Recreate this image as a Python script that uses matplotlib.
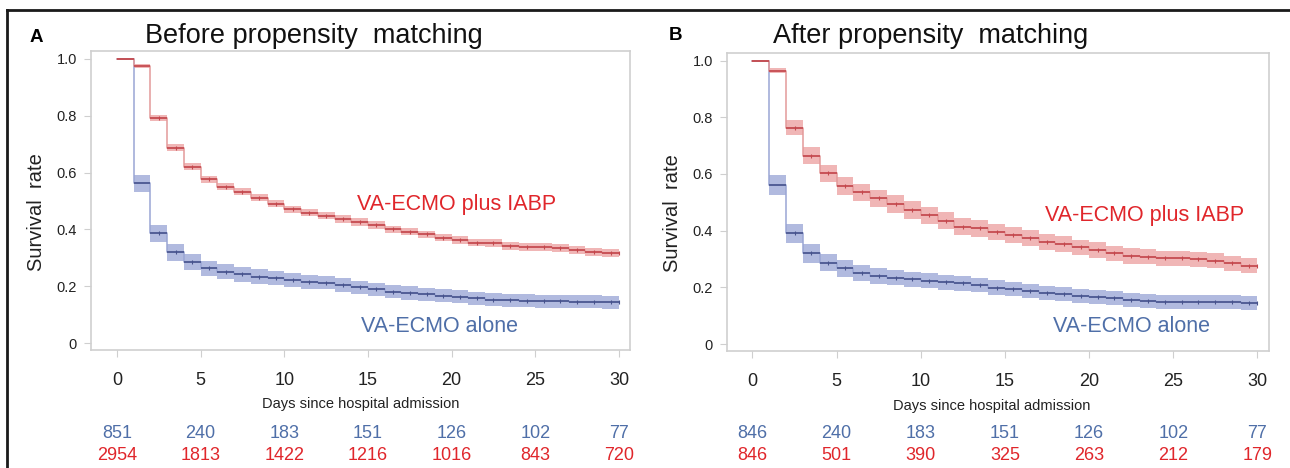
import numpy as np
import matplotlib
matplotlib.use('Agg')
import matplotlib.pyplot as plt
from matplotlib import transforms
from matplotlib.lines import Line2D

plt.rcParams['font.family'] = ['Liberation Sans', 'DejaVu Sans']

# ---------------- data ----------------
days = list(range(31))
xticks = [0, 5, 10, 15, 20, 25, 30]
yticks = [0, 0.2, 0.4, 0.6, 0.8, 1.0]
ytick_labels = ['0', '0.2', '0.4', '0.6', '0.8', '1.0']

# Panel A: before propensity matching
surv_A_iabp = [1.0, 0.976, 0.793, 0.688, 0.621, 0.577, 0.550, 0.532, 0.512, 0.491,
               0.471, 0.459, 0.448, 0.436, 0.426, 0.415, 0.400, 0.392, 0.383, 0.371,
               0.363, 0.353, 0.351, 0.342, 0.339, 0.337, 0.333, 0.327, 0.321, 0.318, 0.316]
ci_A_iabp = [0.0, 0.007, 0.011, 0.012, 0.012, 0.012, 0.012, 0.012, 0.012, 0.012,
             0.012, 0.012, 0.013, 0.013, 0.013, 0.013, 0.013, 0.013, 0.013, 0.013,
             0.013, 0.013, 0.014, 0.014, 0.014, 0.014, 0.014, 0.014, 0.014, 0.014, 0.014]
surv_A_alone = [1.0, 0.562, 0.386, 0.319, 0.286, 0.263, 0.251, 0.242, 0.234, 0.228,
                0.222, 0.216, 0.213, 0.204, 0.196, 0.189, 0.181, 0.177, 0.171, 0.167,
                0.163, 0.157, 0.153, 0.151, 0.149, 0.147, 0.147, 0.146, 0.146, 0.143, 0.143]
ci_A_alone = [0.0, 0.031, 0.031, 0.029, 0.028, 0.027, 0.026, 0.026, 0.025, 0.025,
              0.025, 0.025, 0.024, 0.024, 0.024, 0.024, 0.024, 0.024, 0.024, 0.023,
              0.023, 0.023, 0.023, 0.023, 0.023, 0.023, 0.023, 0.023, 0.023, 0.023, 0.023]

# Panel B: after propensity matching
surv_B_iabp = [1.0, 0.965, 0.764, 0.665, 0.602, 0.558, 0.535, 0.514, 0.494, 0.473,
               0.455, 0.435, 0.414, 0.408, 0.396, 0.385, 0.373, 0.361, 0.353, 0.341,
               0.332, 0.320, 0.311, 0.308, 0.302, 0.302, 0.299, 0.294, 0.285, 0.276, 0.276]
ci_B_iabp = [0.0, 0.009, 0.027, 0.030, 0.031, 0.031, 0.031, 0.031, 0.031, 0.031,
             0.030, 0.030, 0.030, 0.029, 0.029, 0.029, 0.028, 0.028, 0.028, 0.027,
             0.027, 0.027, 0.027, 0.026, 0.026, 0.026, 0.026, 0.026, 0.026, 0.026, 0.026]
surv_B_alone = [1.0, 0.561, 0.391, 0.320, 0.287, 0.267, 0.250, 0.241, 0.234, 0.228,
                0.223, 0.218, 0.214, 0.208, 0.199, 0.193, 0.188, 0.181, 0.175, 0.169,
                0.165, 0.161, 0.155, 0.153, 0.149, 0.147, 0.147, 0.147, 0.147, 0.144, 0.144]
ci_B_alone = [0.0, 0.034, 0.033, 0.033, 0.031, 0.029, 0.028, 0.028, 0.027, 0.027,
              0.027, 0.026, 0.026, 0.026, 0.026, 0.025, 0.025, 0.025, 0.025, 0.025,
              0.025, 0.025, 0.025, 0.025, 0.025, 0.025, 0.025, 0.025, 0.025, 0.025, 0.025]

risk_A_alone = [851, 240, 183, 151, 126, 102, 77]
risk_A_iabp = [2954, 1813, 1422, 1216, 1016, 843, 720]
risk_B_alone = [846, 240, 183, 151, 126, 102, 77]
risk_B_iabp = [846, 501, 390, 325, 263, 212, 179]

label_iabp = 'VA-ECMO plus IABP'
label_alone = 'VA-ECMO alone'
xlabel = 'Days since hospital admission'
ylabel = 'Survival  rate'

# ---------------- style ----------------
RED_LINE = '#c4474c'
RED_VERT = '#e39a9a'
RED_BAND = '#efaeae'
BLUE_LINE = '#46528c'
BLUE_VERT = '#9aa6d4'
BLUE_BAND = '#a9b3dc'
RED_TXT = '#e0262b'
BLUE_TXT = '#4f6fa8'
FRAME = '#cfcfcf'

W, H = 1290, 468
fig = plt.figure(figsize=(W / 100, H / 100), dpi=100)


def px_rect(l, t, r, b):
    return [l / W, 1 - b / H, (r - l) / W, (b - t) / H]


def panel(rect, xlim, ylim, s_iabp, c_iabp, s_alone, c_alone,
          risk_alone, risk_iabp, lab_iabp_pos, lab_alone_pos):
    ax = fig.add_axes(rect)
    d = np.array(days, dtype=float)
    for s, c, band, line, vert in ((s_alone, c_alone, BLUE_BAND, BLUE_LINE, BLUE_VERT),
                                   (s_iabp, c_iabp, RED_BAND, RED_LINE, RED_VERT)):
        s = np.array(s)
        c = np.array(c)
        ax.fill_between(d, s - c, s + c, step='post', color=band, lw=0, alpha=0.9)
        # vertical drops (lighter)
        ax.step(d, s, where='post', color=vert, lw=1.1)
        # horizontal segments (darker)
        ax.hlines(s[:-1], d[:-1], d[1:], color=line, lw=1.2)
        mid = d[2:-1] + 0.5
        ax.plot(mid, s[2:-1], ls='none', marker='|', ms=3, mew=0.8, color=line)
        ax.plot([d[-1]], [s[-1]], ls='none', marker='|', ms=3, mew=0.8, color=line)
    ax.set_xlim(*xlim)
    ax.set_ylim(*ylim)
    ax.set_xticks(xticks)
    ax.set_xticklabels([str(t) for t in xticks])
    ax.set_yticks(yticks)
    ax.set_yticklabels(ytick_labels)
    ax.tick_params(axis='x', length=5, color=FRAME, pad=11, labelsize=13, labelcolor='#222222')
    ax.tick_params(axis='y', length=5, color=FRAME, pad=5, labelsize=10.5, labelcolor='#222222')
    for sp in ax.spines.values():
        sp.set_color(FRAME)
        sp.set_linewidth(1.2)
    ax.text(lab_iabp_pos[0], lab_iabp_pos[1], label_iabp, color=RED_TXT,
            fontsize=15.5, va='center', ha='left')
    ax.text(lab_alone_pos[0], lab_alone_pos[1], label_alone, color=BLUE_TXT,
            fontsize=15.5, va='center', ha='left')
    tr = transforms.blended_transform_factory(ax.transData, fig.transFigure)
    for x, a, b in zip(xticks, risk_alone, risk_iabp):
        ax.text(x, 1 - 433 / H, str(a), transform=tr, ha='center', va='center',
                color=BLUE_TXT, fontsize=13, clip_on=False)
        ax.text(x, 1 - 456 / H, str(b), transform=tr, ha='center', va='center',
                color=RED_TXT, fontsize=13, clip_on=False)
    return ax


axA = panel(px_rect(91, 51, 630, 350), (-1.554, 30.66), (-0.0246, 1.028),
            surv_A_iabp, ci_A_iabp, surv_A_alone, ci_A_alone,
            risk_A_alone, risk_A_iabp, (14.35, 0.486), (14.6, 0.057))
axB = panel(px_rect(727, 53, 1269, 351), (-1.515, 30.69), (-0.0247, 1.027),
            surv_B_iabp, ci_B_iabp, surv_B_alone, ci_B_alone,
            risk_B_alone, risk_B_iabp, (17.38, 0.455), (17.87, 0.0635))

# titles / panel letters / axis labels
fig.text(145 / W, 1 - 43 / H, 'Before propensity  matching', fontsize=19.5,
         va='baseline', ha='left', color='#111111')
fig.text(773 / W, 1 - 43 / H, 'After propensity  matching', fontsize=19.5,
         va='baseline', ha='left', color='#111111')
fig.text(36 / W, 1 - 37 / H, 'A', fontsize=13.5, fontweight='bold', ha='center', va='center')
fig.text(675 / W, 1 - 36 / H, 'B', fontsize=13.5, fontweight='bold', ha='center', va='center')
fig.text(37 / W, 1 - 212 / H, ylabel, rotation=90, fontsize=14.5, ha='center', va='center',
         color='#222222')
fig.text(673 / W, 1 - 213 / H, ylabel, rotation=90, fontsize=14.5, ha='center', va='center',
         color='#222222')
fig.text(361 / W, 1 - 404 / H, xlabel, fontsize=10.5, ha='center', va='center', color='#222222')
fig.text(992 / W, 1 - 406 / H, xlabel, fontsize=10.5, ha='center', va='center', color='#222222')

# outer frame lines (left and top)
fig.add_artist(Line2D([7 / W, 7 / W], [0, 1 - 9.5 / H], transform=fig.transFigure,
                      color='#1a1a1a', lw=2))
fig.add_artist(Line2D([7 / W, 1], [1 - 9.5 / H, 1 - 9.5 / H], transform=fig.transFigure,
                      color='#1a1a1a', lw=2))

fig.savefig('out.png', dpi=100)
